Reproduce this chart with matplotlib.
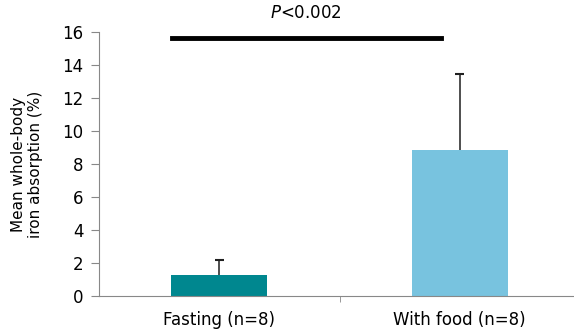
import matplotlib.pyplot as plt
import numpy as np

# datos
categorias = ['Fasting (n=8)', 'With food (n=8)']
absorcion = [1.27, 8.85]
error_sup = [0.93, 4.6]
colores = ['#00878F', '#78C3DF']

fig = plt.figure(figsize=(5.74, 3.31), dpi=100)
ax = fig.add_axes([0.1725, 0.106, 0.8255, 0.797])

x = np.arange(len(categorias))
ax.bar(x, absorcion, width=0.40, color=colores, zorder=2)
# solo la barra de error superior
ax.vlines(x, absorcion, np.array(absorcion) + np.array(error_sup),
          color='#404040', lw=1.3, zorder=3)
ax.hlines(np.array(absorcion) + np.array(error_sup), x - 0.018, x + 0.018,
          color='#202020', lw=1.5, zorder=3)

ax.set_xlim(-0.5, 1.47)
ax.set_ylim(0, 16)
ax.set_yticks(range(0, 17, 2))
ax.set_xticks(x)
ax.set_xticklabels(categorias, fontsize=12)
ax.set_xticks([0.5], minor=True)
ax.tick_params(axis='x', which='major', length=0, pad=11)
ax.tick_params(axis='x', which='minor', length=4, color='#888888')
ax.tick_params(axis='y', labelsize=12, length=6, color='#888888', pad=5)

for s in ['top', 'right']:
    ax.spines[s].set_visible(False)
for s in ['left', 'bottom']:
    ax.spines[s].set_color('#888888')

ax.set_ylabel('Mean whole-body\niron absorption (%)', fontsize=11, labelpad=14)

# linea de significancia
ax.plot([-0.195, 0.92], [15.65, 15.65], color='black', lw=3.5, clip_on=False)
ax.text(0.36, 16.6, r'$\it{P}$<0.002', ha='center', va='bottom', fontsize=12)

fig.savefig('out.png', dpi=100)
